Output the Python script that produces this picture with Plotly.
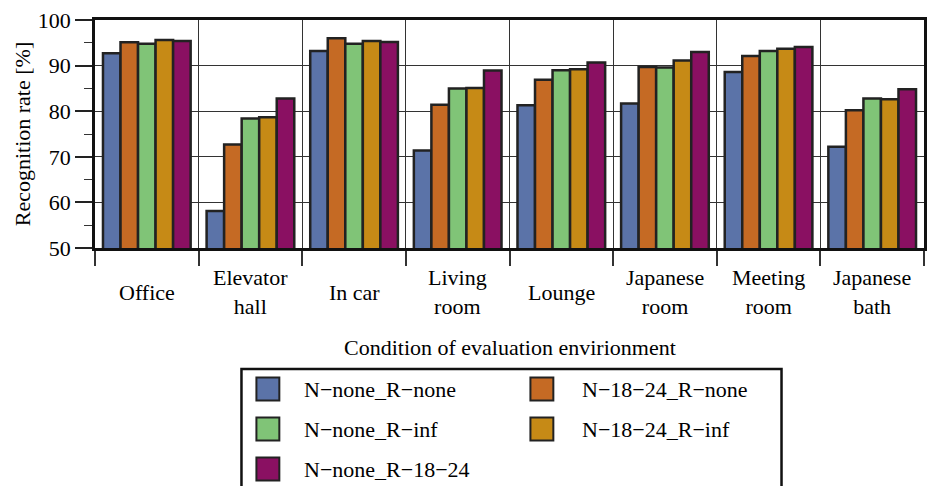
import plotly.graph_objects as go

categories = ["Office", "Elevator hall", "In car", "Living room", "Lounge",
              "Japanese room", "Meeting room", "Japanese bath"]
tick_labels = ["Office", "Elevator<br>hall", "In car", "Living<br>room", "Lounge",
               "Japanese<br>room", "Meeting<br>room", "Japanese<br>bath"]

series_names = ["N\u2212none_R\u2212none", "N\u221218\u221224_R\u2212none",
                "N\u2212none_R\u2212inf", "N\u221218\u221224_R\u2212inf",
                "N\u2212none_R\u221218\u221224"]
n_none_r_none = [92.7, 58.1, 93.2, 71.4, 81.3, 81.7, 88.6, 72.2]
n_1824_r_none = [95.1, 72.7, 96.0, 81.4, 86.9, 89.7, 92.1, 80.2]
n_none_r_inf = [94.8, 78.4, 94.8, 85.0, 89.0, 89.6, 93.2, 82.8]
n_1824_r_inf = [95.6, 78.7, 95.4, 85.1, 89.2, 91.1, 93.7, 82.6]
n_none_r_1824 = [95.4, 82.8, 95.2, 88.9, 90.7, 93.0, 94.1, 84.8]
series_values = [n_none_r_none, n_1824_r_none, n_none_r_inf, n_1824_r_inf, n_none_r_1824]
colors = ["#5b73a8", "#c56a24", "#80c477", "#c68a16", "#8a1062"]

FONT = "Liberation Serif"
FS = 22
W, H = 927, 486
ML, MR, MT, MB = 95, 0, 20, 238
PW, PH = W - ML - MR, H - MT - MB


def px(xp):
    return (xp - ML) / PW


def py(yp):
    return (H - MB - yp) / PH


fig = go.Figure()
for name, vals, col in zip(series_names, series_values, colors):
    fig.add_trace(go.Bar(x=categories, y=vals, name=name, showlegend=False,
                         marker=dict(color=col, line=dict(color="#222222", width=2.5))))

annotations = []
for cat, lab in zip(categories, tick_labels):
    annotations.append(dict(x=cat, y=py(292), xref="x", yref="paper", text=lab,
                            showarrow=False, xanchor="center", yanchor="middle"))
annotations.append(dict(x=0.5, y=py(347), xref="paper", yref="paper",
                        text="Condition of evaluation envirionment", showarrow=False,
                        xanchor="center", yanchor="middle"))
annotations.append(dict(x=px(22), y=0.5, xref="paper", yref="paper",
                        text="Recognition rate [%]", textangle=-90, showarrow=False,
                        xanchor="center", yanchor="middle"))

shapes = [dict(type="rect", xref="paper", yref="paper", x0=px(242), x1=px(784),
               y0=py(369), y1=py(520), line=dict(color="#111111", width=2.5),
               fillcolor="rgba(0,0,0,0)")]
sym_x = [257, 532]
txt_x = [303, 582]
for i, (name, col) in enumerate(zip(series_names, colors)):
    c, r = i % 2, i // 2
    cy = 389 + 40 * r
    shapes.append(dict(type="rect", xref="paper", yref="paper",
                       x0=px(sym_x[c]), x1=px(sym_x[c] + 23), y0=py(cy - 11.5), y1=py(cy + 11.5),
                       fillcolor=col, line=dict(color="#222222", width=2)))
    annotations.append(dict(x=px(txt_x[c]), y=py(cy), xref="paper", yref="paper", text=name,
                            showarrow=False, xanchor="left", yanchor="middle"))

fig.update_layout(
    width=W, height=H, margin=dict(l=ML, r=MR, t=MT, b=MB),
    barmode="group", bargap=0.154, bargroupgap=0,
    plot_bgcolor="white", paper_bgcolor="white",
    font=dict(family=FONT, size=FS, color="black"),
    annotations=annotations, shapes=shapes,
    xaxis=dict(type="category", tickson="boundaries", showticklabels=False,
               ticks="outside", ticklen=15, tickwidth=1.5, tickcolor="#333333",
               showgrid=True, gridcolor="#333333", gridwidth=1.3,
               showline=True, linecolor="#111111", linewidth=2.5, mirror=True,
               range=[-0.5, 7.5]),
    yaxis=dict(range=[50, 100], tickvals=[50, 60, 70, 80, 90, 100],
               ticks="outside", ticklen=17, tickwidth=1.5, tickcolor="#222222",
               minor=dict(tickvals=[55, 65, 75, 85, 95], ticks="outside", ticklen=8,
                          tickwidth=1.2, tickcolor="#333333", showgrid=False),
               showgrid=True, gridcolor="#333333", gridwidth=1.3,
               showline=True, linecolor="#111111", linewidth=2.5, mirror=True,
               zeroline=False),
)

fig.write_html("out.html", config={"displayModeBar": False},
               post_script="document.body.style.margin='0px';")
